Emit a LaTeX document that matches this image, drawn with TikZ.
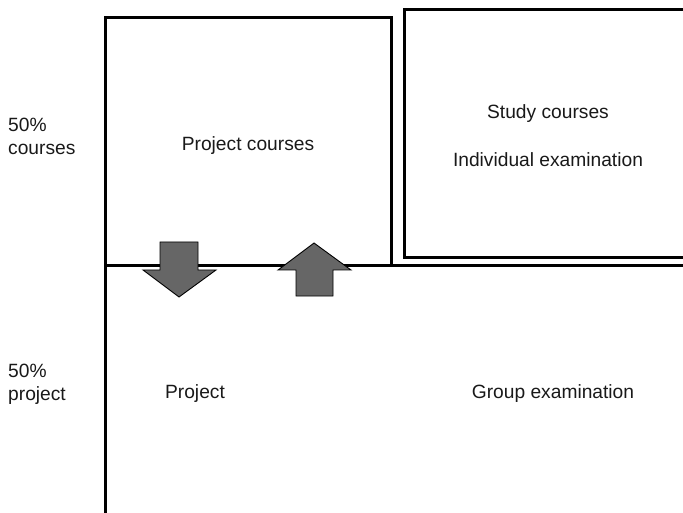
\documentclass[tikz,border=0pt]{standalone}
\usepackage{fontspec}
\setmainfont{Liberation Sans}
\begin{document}
\begin{tikzpicture}[x=1pt,y=-1pt,
  frame/.style={line width=3pt,line cap=rect},
  bigarrow/.style={draw=black,line width=0.9pt,fill=black!60,line join=miter},
  lbl/.style={font=\fontsize{19.2}{23}\selectfont,inner sep=0pt,text=black!90},
  side/.style={lbl,align=left,anchor=west}]
\useasboundingbox (0,0) rectangle (683,513);
% right-hand box (runs past the edge)
\draw[frame] (695,10) -- (404,10) -- (404,258) -- (695,258);
% project courses box and the course/project split
\draw[frame] (105,520) -- (105,18) -- (391,18) -- (391,266);
\draw[frame] (105,266) -- (690,266);
% arrows between the two halves
\draw[bigarrow] (160,242) -- (198,242) -- (198,270) -- (216,270) -- (179,297)
  -- (143,270) -- (160,270) -- cycle;
\draw[bigarrow] (314,243) -- (351,270) -- (333,270) -- (333,296) -- (296,296)
  -- (296,270) -- (278,270) -- cycle;
% labels
\node[side] (pc) at (8,136) {50\%\\courses};
\node[side] (pp) at (8,384) {50\%\\project};
\node[lbl] (projc) at (248,146) {Project courses};
\node[lbl] (study) at (548,114) {Study courses};
\node[lbl] (indiv) at (548,160) {Individual examination};
\node[lbl] (proj) at (195,394) {Project};
\node[lbl] (group) at (553,394) {Group examination};
\end{tikzpicture}
\end{document}
